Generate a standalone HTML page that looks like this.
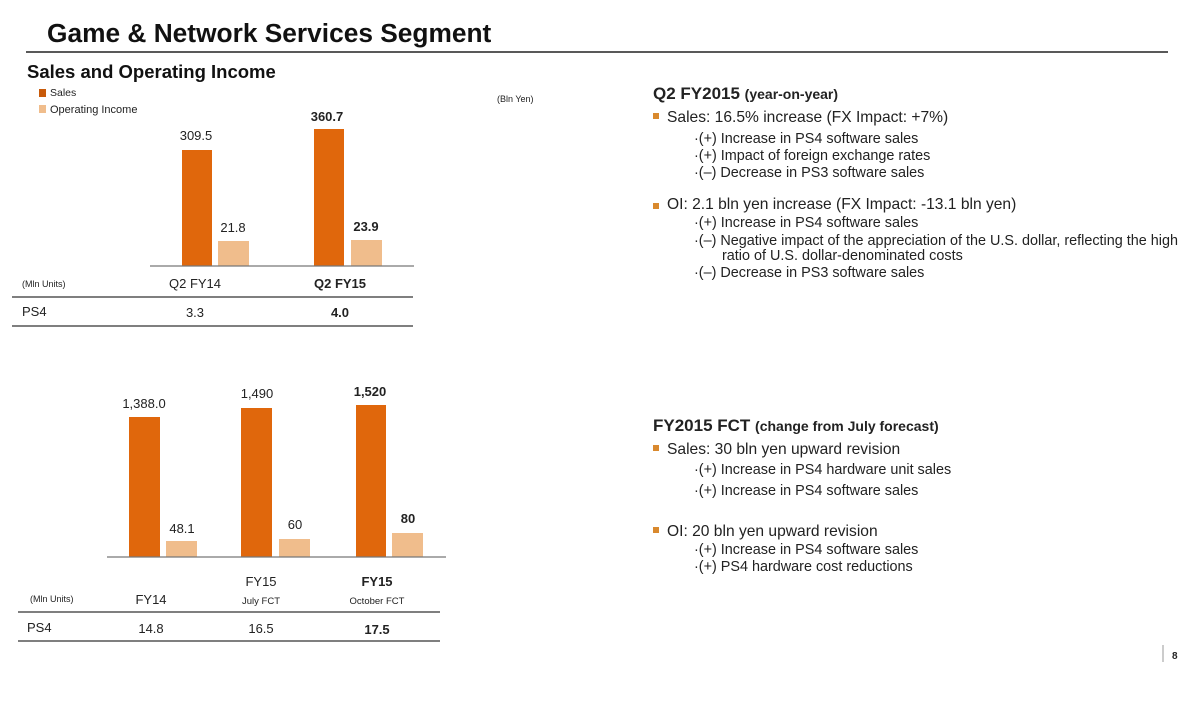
<!DOCTYPE html>
<html><head><meta charset="utf-8"><style>
html,body{margin:0;padding:0;background:#fff;}
svg{display:block;font-family:"Liberation Sans",Arial,sans-serif;}
</style></head><body>
<svg width="1200" height="712" viewBox="0 0 1200 712" xmlns="http://www.w3.org/2000/svg">
<rect width="1200" height="712" fill="#fff"/>
<text x="47" y="42" font-size="26.3" font-weight="bold" fill="#111">Game &amp; Network Services Segment</text>
<line x1="26" y1="52" x2="1168" y2="52" stroke="#222" stroke-width="1.5"/>
<text x="27" y="78" font-size="18.5" font-weight="bold" fill="#111">Sales and Operating Income</text>
<rect x="39" y="89" width="7" height="8" fill="#c85a0a"/>
<text x="50" y="96" font-size="10.5" fill="#222">Sales</text>
<rect x="39" y="105" width="7" height="8" fill="#f0bd8c"/>
<text x="50" y="113" font-size="11" fill="#222">Operating Income</text>
<text x="497" y="102" font-size="9" fill="#222">(Bln Yen)</text>

<rect x="182" y="150" width="30" height="116" fill="#e0670c"/>
<rect x="218" y="241" width="31" height="25" fill="#f0bd8c"/>
<rect x="314" y="129" width="30" height="137" fill="#e0670c"/>
<rect x="351" y="240" width="31" height="26" fill="#f0bd8c"/>
<line x1="150" y1="266" x2="414" y2="266" stroke="#777" stroke-width="1.2"/>
<g font-size="13" text-anchor="middle" fill="#222">
<text x="196" y="140">309.5</text>
<text x="233" y="232">21.8</text>
<text x="327" y="121" font-weight="bold">360.7</text>
<text x="366" y="231" font-weight="bold">23.9</text>
<text x="195" y="288">Q2 FY14</text>
<text x="340" y="288" font-weight="bold">Q2 FY15</text>
<text x="195" y="317">3.3</text>
<text x="340" y="317" font-weight="bold">4.0</text>
</g>
<text x="22" y="287" font-size="9" fill="#222">(Mln Units)</text>
<line x1="12" y1="297" x2="413" y2="297" stroke="#333" stroke-width="1.2"/>
<text x="22" y="316" font-size="13" fill="#222">PS4</text>
<line x1="12" y1="326" x2="413" y2="326" stroke="#333" stroke-width="1.2"/>

<rect x="129" y="417" width="31" height="140" fill="#e0670c"/>
<rect x="166" y="541" width="31" height="16" fill="#f0bd8c"/>
<rect x="241" y="408" width="31" height="149" fill="#e0670c"/>
<rect x="279" y="539" width="31" height="18" fill="#f0bd8c"/>
<rect x="356" y="405" width="30" height="152" fill="#e0670c"/>
<rect x="392" y="533" width="31" height="24" fill="#f0bd8c"/>
<line x1="107" y1="557" x2="446" y2="557" stroke="#777" stroke-width="1.2"/>
<g font-size="13" text-anchor="middle" fill="#222">
<text x="144" y="408">1,388.0</text>
<text x="182" y="533">48.1</text>
<text x="257" y="398">1,490</text>
<text x="295" y="529">60</text>
<text x="370" y="396" font-weight="bold">1,520</text>
<text x="408" y="523" font-weight="bold">80</text>
<text x="151" y="604">FY14</text>
<text x="261" y="586">FY15</text>
<text x="261" y="604" font-size="9.5">July FCT</text>
<text x="377" y="586" font-weight="bold">FY15</text>
<text x="377" y="604" font-size="9.5">October FCT</text>
<text x="151" y="633">14.8</text>
<text x="261" y="633">16.5</text>
<text x="377" y="634" font-weight="bold">17.5</text>
</g>
<text x="30" y="602" font-size="9" fill="#222">(Mln Units)</text>
<line x1="18" y1="612" x2="440" y2="612" stroke="#333" stroke-width="1.2"/>
<text x="27" y="632" font-size="13" fill="#222">PS4</text>
<line x1="18" y1="641" x2="440" y2="641" stroke="#333" stroke-width="1.2"/>

<g fill="#222">
<text x="653" y="99" font-size="17" font-weight="bold">Q2 FY2015 <tspan font-size="14">(year-on-year)</tspan></text>
<rect x="653" y="113" width="6" height="6" fill="#d9892e"/>
<text x="667" y="122" font-size="15.6">Sales: 16.5% increase (FX Impact:  +7%)</text>
<g font-size="14.4">
<text x="694" y="143">·(+) Increase in PS4 software sales</text>
<text x="694" y="160">·(+) Impact of foreign exchange rates</text>
<text x="694" y="177">·(–) Decrease in PS3 software sales</text>
</g>
<rect x="653" y="203" width="6" height="6" fill="#d9892e"/>
<text x="667" y="209" font-size="15.6">OI:  2.1 bln yen increase (FX Impact:  -13.1 bln yen)</text>
<g font-size="14.4">
<text x="694" y="227">·(+) Increase in PS4 software sales</text>
<text x="694" y="245">·(–) Negative impact of the appreciation of the U.S. dollar, reflecting the high</text>
<text x="722" y="260">ratio of U.S. dollar-denominated costs</text>
<text x="694" y="277">·(–) Decrease in PS3 software sales</text>
</g>
<text x="653" y="431" font-size="17" font-weight="bold">FY2015 FCT <tspan font-size="14">(change from July forecast)</tspan></text>
<rect x="653" y="445" width="6" height="6" fill="#d9892e"/>
<text x="667" y="454" font-size="15.6">Sales: 30 bln yen upward revision</text>
<g font-size="14.4">
<text x="694" y="474">·(+) Increase in PS4 hardware unit sales</text>
<text x="694" y="495">·(+) Increase in PS4 software sales</text>
</g>
<rect x="653" y="527" width="6" height="6" fill="#d9892e"/>
<text x="667" y="536" font-size="15.6">OI: 20 bln yen upward revision</text>
<g font-size="14.4">
<text x="694" y="554">·(+) Increase in PS4 software sales</text>
<text x="694" y="571">·(+) PS4 hardware cost reductions</text>
</g>
</g>
<line x1="1163" y1="645" x2="1163" y2="662" stroke="#999" stroke-width="1"/>
<text x="1172" y="659" font-size="10" font-weight="bold" fill="#222">8</text>
</svg>
</body></html>
